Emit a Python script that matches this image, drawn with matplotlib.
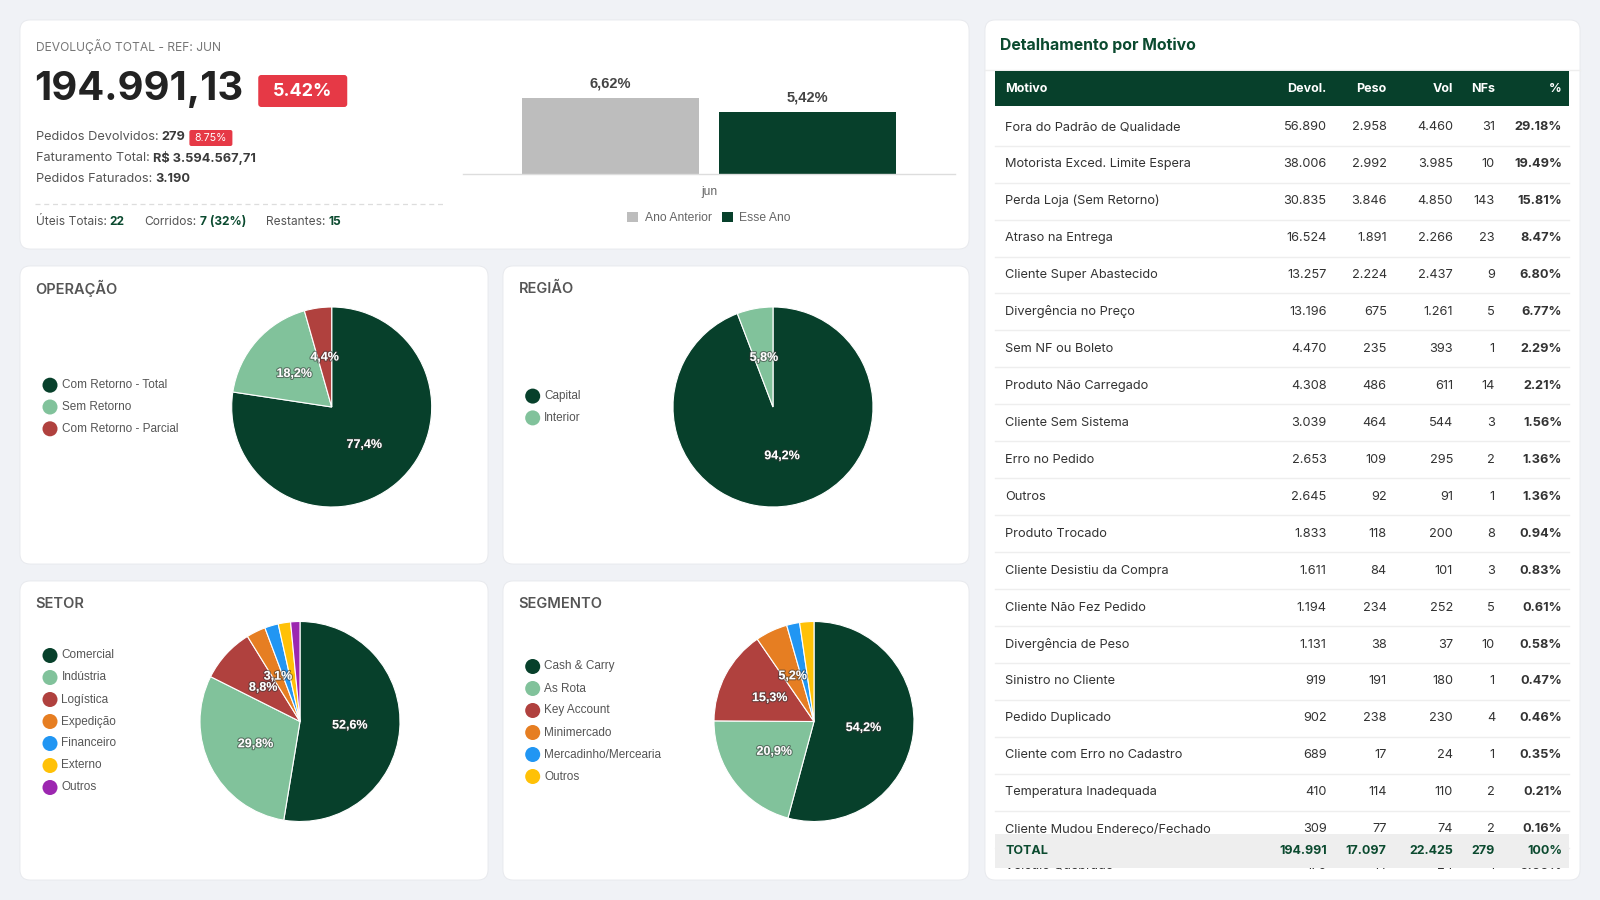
"""
    Painel de devoluções - recriação em matplotlib
"""

import matplotlib
matplotlib.use("Agg")
from matplotlib import pyplot as plt
from matplotlib.patches import FancyBboxPatch, Rectangle
from matplotlib.transforms import Bbox, TransformedBbox
import matplotlib.patheffects as pe

# ---------------- data ----------------
ref_mes = "JUN"
devolucao_total = 194991.13
pct_devolucao = 5.42
pedidos_devolvidos = 279
pct_pedidos = 8.75
faturamento_total = 3594567.71
pedidos_faturados = 3190
uteis_totais = 22
corridos = 7
restantes = 15

bar_categories = ["jun"]
bar_series = ["Ano Anterior", "Esse Ano"]
bar_values = [6.62, 5.42]

operacao_labels = ["Com Retorno - Total", "Sem Retorno", "Com Retorno - Parcial"]
operacao_values = [77.4, 18.2, 4.4]

regiao_labels = ["Capital", "Interior"]
regiao_values = [94.2, 5.8]

setor_labels = ["Comercial", "Indústria", "Logística", "Expedição", "Financeiro", "Externo", "Outros"]
setor_values = [52.6, 29.8, 8.8, 3.1, 2.2, 2.0, 1.5]

segmento_labels = ["Cash & Carry", "As Rota", "Key Account", "Minimercado", "Mercadinho/Mercearia", "Outros"]
segmento_values = [54.2, 20.9, 15.3, 5.2, 2.1, 2.3]

motivos = [
    "Fora do Padrão de Qualidade", "Motorista Exced. Limite Espera", "Perda Loja (Sem Retorno)",
    "Atraso na Entrega", "Cliente Super Abastecido", "Divergência no Preço", "Sem NF ou Boleto",
    "Produto Não Carregado", "Cliente Sem Sistema", "Erro no Pedido", "Outros", "Produto Trocado",
    "Cliente Desistiu da Compra", "Cliente Não Fez Pedido", "Divergência de Peso", "Sinistro no Cliente",
    "Pedido Duplicado", "Cliente com Erro no Cadastro", "Temperatura Inadequada",
    "Cliente Mudou Endereço/Fechado", "Veículo Quebrado",
]
devol = [56890, 38006, 30835, 16524, 13257, 13196, 4470, 4308, 3039, 2653, 2645, 1833,
         1611, 1194, 1131, 919, 902, 689, 410, 309, 170]
peso = [2958, 2992, 3846, 1891, 2224, 675, 235, 486, 464, 109, 92, 118,
        84, 234, 38, 191, 238, 17, 114, 77, 14]
vol = [4460, 3985, 4850, 2266, 2437, 1261, 393, 611, 544, 295, 91, 200,
       101, 252, 37, 180, 230, 24, 110, 74, 24]
nfs = [31, 10, 143, 23, 9, 5, 1, 14, 3, 2, 1, 8, 3, 5, 10, 1, 4, 1, 2, 2, 1]
pct = [29.18, 19.49, 15.81, 8.47, 6.80, 6.77, 2.29, 2.21, 1.56, 1.36, 1.36, 0.94,
       0.83, 0.61, 0.58, 0.47, 0.46, 0.35, 0.21, 0.16, 0.09]

# ---------------- style ----------------
BG = "#f0f2f6"
GREEN = "#07402b"
GREEN_TXT = "#0b4a2f"
LIGHT = "#81c29b"
RED = "#b0413e"
ORANGE = "#e67e22"
BLUE = "#2196f3"
YELLOW = "#ffc107"
PURPLE = "#9c27b0"
BADGE = "#e63946"
GREY_BAR = "#bdbdbd"
UI_FONT = ["Inter", "DejaVu Sans"]
CH_FONT = ["Liberation Sans", "DejaVu Sans"]

W, H = 1600, 900


def br(v, dec=0):
    s = f"{v:,.{dec}f}"
    return s.replace(",", "#").replace(".", ",").replace("#", ".")


fig = plt.figure(figsize=(16, 9), dpi=100)
fig.patch.set_facecolor(BG)
bg = fig.add_axes([0, 0, 1, 1])
bg.set_xlim(0, W)
bg.set_ylim(H, 0)
bg.axis("off")
renderer = fig.canvas.get_renderer()


def px_axes(x0, y0, x1, y1):
    return fig.add_axes([x0 / W, 1 - y1 / H, (x1 - x0) / W, (y1 - y0) / H])


def card(x0, y0, x1, y1):
    bg.add_patch(FancyBboxPatch((x0, y0), x1 - x0, y1 - y0, boxstyle="round,pad=0,rounding_size=10",
                                fc="white", ec="#e6e8ec", lw=0.6, zorder=1))


def right_of(t):
    bb = t.get_window_extent(renderer)
    return bg.transData.inverted().transform((bb.x1, bb.y0))[0]


def text_run(x, y, parts, size, gap=3.4):
    t = None
    for txt, weight, color in parts:
        t = bg.text(x, y, txt, fontsize=size, fontweight=weight, color=color,
                    ha="left", va="center", family=UI_FONT, zorder=5)
        x = right_of(t) + gap
    return t


# ---------------- KPI card ----------------
card(20, 20, 969, 249)
bg.text(35.5, 46, f"DEVOLUÇÃO TOTAL - REF: {ref_mes}", fontsize=8.7, color="#777", va="center",
        family=UI_FONT, zorder=5)
big = bg.text(34, 90, br(devolucao_total, 2), fontsize=28.8, fontweight="bold", color="#222",
              va="center", family=UI_FONT, zorder=5)
bx = right_of(big) + 15
bg.add_patch(FancyBboxPatch((bx, 75), 89, 32, boxstyle="round,pad=0,rounding_size=3",
                            fc=BADGE, ec="none", zorder=4))
bg.text(bx + 44.5, 91.5, f"{pct_devolucao:.2f}%", fontsize=13, fontweight="bold", color="white",
        ha="center", va="center", family=UI_FONT, zorder=5)

t = text_run(35.5, 137.5, [("Pedidos Devolvidos:", "normal", "#555"),
                           (str(pedidos_devolvidos), "bold", "#3a3a3a")], 9.2)
sx = right_of(t) + 4
bg.add_patch(FancyBboxPatch((sx, 130), 43, 16, boxstyle="round,pad=0,rounding_size=2",
                            fc=BADGE, ec="none", zorder=4))
bg.text(sx + 21.5, 138, f"{pct_pedidos:.2f}%", fontsize=7.6, color="white", ha="center", va="center",
        family=UI_FONT, zorder=5)
text_run(35.5, 158, [("Faturamento Total:", "normal", "#555"),
                     ("R$ " + br(faturamento_total, 2), "bold", "#3a3a3a")], 9.2)
text_run(35.5, 179, [("Pedidos Faturados:", "normal", "#555"),
                     (br(pedidos_faturados), "bold", "#3a3a3a")], 9.2)
bg.plot([35, 444], [203.5, 203.5], color="#dddddd", lw=0.9, ls=(0, (4, 3)), zorder=3)
text_run(35.5, 222, [("Úteis Totais:", "normal", "#555"), (str(uteis_totais), "bold", GREEN_TXT)], 8.6)
pc = round(100 * corridos / uteis_totais)
text_run(144, 222, [("Corridos:", "normal", "#555"), (f"{corridos} ({pc}%)", "bold", GREEN_TXT)], 8.6)
text_run(266, 222, [("Restantes:", "normal", "#555"), (str(restantes), "bold", GREEN_TXT)], 8.6)

# bar chart ano anterior x esse ano
axb = px_axes(463, 59.5, 955, 174.3)
axb.set_facecolor("none")
offsets = [-0.4, 0.4]
bar_colors = [GREY_BAR, GREEN]
for i, name in enumerate(bar_series):
    axb.bar([offsets[i]], [bar_values[i]], width=0.72, color=bar_colors[i], label=name, zorder=2)
    axb.annotate(f"{bar_values[i]:.2f}%".replace(".", ","), xy=(offsets[i], bar_values[i]),
                 xytext=(0, 10.3), textcoords="offset points", ha="center", va="center",
                 fontsize=10.5, fontweight="bold", color="#444", family=CH_FONT)
axb.set_xlim(-1, 1)
axb.set_ylim(0, 10)
axb.axhline(0, color="#dddddd", lw=1, clip_on=False, zorder=3)
for s in axb.spines.values():
    s.set_visible(False)
axb.set_yticks([])
axb.set_xticks([0], bar_categories)
axb.tick_params(axis="x", length=0, pad=8.2, labelsize=8.7, labelcolor="#666")
for lab in axb.get_xticklabels():
    lab.set_family(CH_FONT)
leg = axb.legend(loc="center", bbox_to_anchor=(0.5, -0.383), ncol=2, frameon=False,
                 handlelength=0.9, handleheight=0.9, handletextpad=0.55, columnspacing=0.85,
                 prop={"family": CH_FONT, "size": 8.7})
for txt in leg.get_texts():
    txt.set_color("#666")


# ---------------- pie cards ----------------
def pie_panel(title, labels, values, colors, box, center, legend_x, spacing=21.8, r=100):
    x0, y0, x1, y1 = box
    card(x0, y0, x1, y1)
    bg.text(x0 + 15.5, y0 + 22.5, title, fontsize=10.5, fontweight="semibold", color="#555",
            va="center", family=UI_FONT, zorder=5)
    cx, cy = center
    ax = px_axes(cx - 1.1 * r, cy - 1.1 * r, cx + 1.1 * r, cy + 1.1 * r)
    _, _, autotexts = ax.pie(values, colors=colors, startangle=90, counterclock=False,
                             autopct=lambda p: f"{p:.1f}%".replace(".", ",") if p >= 3 else "",
                             pctdistance=0.5, radius=1,
                             wedgeprops=dict(edgecolor="white", linewidth=0.8))
    for a in autotexts:
        a.set_color("white")
        a.set_fontsize(9)
        a.set_fontweight("bold")
        a.set_family(CH_FONT)
        a.set_path_effects([pe.withStroke(linewidth=1.6, foreground=(0.2, 0.2, 0.2, 0.55))])
    ax.set_xlim(-1.1, 1.1)
    ax.set_ylim(-1.1, 1.1)
    ax.set_aspect("equal")
    ax.axis("off")
    n = len(labels)
    for i, (lab, col) in enumerate(zip(labels, colors)):
        y = cy + (i - (n - 1) / 2) * spacing
        bg.scatter([legend_x], [y], s=117, color=col, edgecolors="none", zorder=5)
        bg.text(legend_x + 11.5, y, lab, fontsize=8.5, color="#555", va="center",
                family=CH_FONT, zorder=5)


pie_panel("OPERAÇÃO", operacao_labels, operacao_values, [GREEN, LIGHT, RED],
          (20, 266, 488, 564), (331.7, 407), 50)
pie_panel("REGIÃO", regiao_labels, regiao_values, [GREEN, LIGHT],
          (503, 266, 969, 564), (773, 407), 532.7)
pie_panel("SETOR", setor_labels, setor_values, [GREEN, LIGHT, RED, ORANGE, BLUE, YELLOW, PURPLE],
          (20, 581, 488, 880), (300, 721.5), 50, spacing=22)
pie_panel("SEGMENTO", segmento_labels, segmento_values, [GREEN, LIGHT, RED, ORANGE, BLUE, YELLOW],
          (503, 581, 969, 880), (814, 721.5), 532.7, spacing=22)

# ---------------- table card ----------------
card(985, 20, 1580, 880)
bg.text(1000, 45.5, "Detalhamento por Motivo", fontsize=11.4, fontweight="bold", color=GREEN_TXT,
        va="center", family=UI_FONT, zorder=5)
bg.plot([985, 1580], [70.4, 70.4], color="#eeeeee", lw=1, zorder=2)

tx0, tx1 = 995, 1569
bg.add_patch(Rectangle((tx0, 71.4), tx1 - tx0, 106 - 71.4, fc=GREEN, ec="none", zorder=3))
col_right = [1326.5, 1386.7, 1453, 1495, 1562]
headers = ["Devol.", "Peso", "Vol", "NFs", "%"]
bg.text(1005, 89.5, "Motivo", fontsize=9, fontweight="bold", color="white", va="center",
        family=UI_FONT, zorder=5)
for xr, h in zip(col_right, headers):
    bg.text(xr, 89.5, h, fontsize=9, fontweight="bold", color="white", ha="right", va="center",
            family=UI_FONT, zorder=5)

clip = TransformedBbox(Bbox([[985, 106], [1580, 872.5]]), bg.transData)
row0, row_h = 127.2, 36.95
for i, m in enumerate(motivos):
    y = row0 + i * row_h
    cells = [br(devol[i]), br(peso[i]), br(vol[i]), str(nfs[i]), f"{pct[i]:.2f}%"]
    items = [bg.text(1005, y, m, fontsize=9.2, color="#333", va="center", family=UI_FONT, zorder=4)]
    for j, (xr, c) in enumerate(zip(col_right, cells)):
        items.append(bg.text(xr, y, c, fontsize=9.2, color="#333", ha="right", va="center",
                             fontweight="bold" if j == 4 else "normal", family=UI_FONT, zorder=4))
    line, = bg.plot([tx0, tx1], [y + row_h / 2, y + row_h / 2], color="#eeeeee", lw=1, zorder=3)
    items.append(line)
    for it in items:
        it.set_clip_box(clip)
        it.set_clip_on(True)

# total row (sticky footer)
ty0, ty1 = 833.7, 868.4
bg.add_patch(Rectangle((tx0, ty0), tx1 - tx0, ty1 - ty0, fc="#eeeeee", ec="none", zorder=6))
ty = (ty0 + ty1) / 2
totals = [br(sum(devol)), br(sum(peso)), br(sum(vol)), str(sum(nfs)), "100%"]
bg.text(1005, ty, "TOTAL", fontsize=9, fontweight="bold", color=GREEN_TXT, va="center",
        family=UI_FONT, zorder=7)
for xr, c in zip(col_right, totals):
    bg.text(xr, ty, c, fontsize=9, fontweight="bold", color=GREEN_TXT, ha="right", va="center",
            family=UI_FONT, zorder=7)

fig.savefig("out.png", dpi=100, facecolor=fig.get_facecolor())
